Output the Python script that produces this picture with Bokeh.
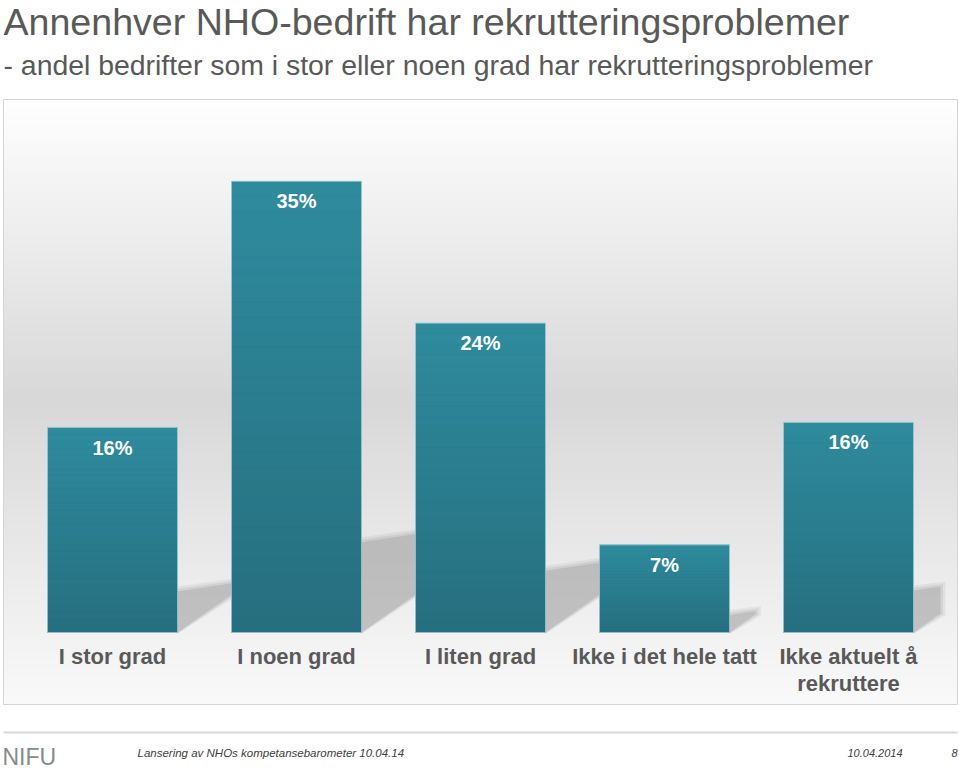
import numpy as np
from bokeh.plotting import figure
from bokeh.models import Range1d, ColumnDataSource
from bokeh.core.properties import value
from bokeh.embed import file_html
from bokeh.resources import INLINE

# ---------------- data ----------------
categories = ["I stor grad", "I noen grad", "I liten grad",
              "Ikke i det hele tatt", "Ikke aktuelt å\nrekruttere"]
shares = [15.9, 35.0, 24.0, 6.8, 16.3]
share_labels = ["16%", "35%", "24%", "7%", "16%"]

title_text = "Annenhver NHO-bedrift har rekrutteringsproblemer"
subtitle_text = "- andel bedrifter som i stor eller noen grad har rekrutteringsproblemer"
footer_text = "Lansering av NHOs kompetansebarometer 10.04.14"
footer_date = "10.04.2014"
page_number = "8"
logo_text = "NIFU"

# ---------------- layout (page pixels -> data scale) ----------------
W, H = 959, 770
MARGIN = 0
X0, DX = 112.0, 184.0      # page x of first category centre, px per category
Y0, DY = 632.0, 12.89      # page y of baseline, px per percentage point
BAR_PX = 130.0
FONT = value("Liberation Sans")


def u(X):
    return (X - X0) / DX


def v(Y):
    return (Y0 - Y) / DY


p = figure(width=W, height=H,
           x_range=Range1d(u(MARGIN), u(MARGIN + W)),
           y_range=Range1d(v(MARGIN + H), v(MARGIN)),
           x_axis_location=None, y_axis_location=None,
           min_border=0, toolbar_location=None, output_backend="svg",
           outline_line_color=None, background_fill_color="white",
           border_fill_color="white")
p.xgrid.visible = False
p.ygrid.visible = False

# ---------------- plot-area background gradient ----------------
AREA_L, AREA_R, AREA_T, AREA_B = 3, 957, 99, 704
band_y = np.arange(AREA_T, AREA_B, 2.0)
band_g = np.interp(band_y + 1, [AREA_T, 400, AREA_B], [255, 216, 250])
band_colors = ["#%02x%02x%02x" % (int(g), int(g), int(g)) for g in band_g]
p.quad(left=[u(AREA_L)] * len(band_y), right=[u(AREA_R)] * len(band_y),
       top=[v(y) for y in band_y], bottom=[v(min(y + 2.6, AREA_B)) for y in band_y],
       fill_color=band_colors, line_color=None)
p.quad(left=[u(AREA_L)], right=[u(AREA_R)], top=[v(AREA_T)], bottom=[v(AREA_B)],
       fill_color=None, line_color="#d4d4d4", line_width=1)

# ---------------- bar shadows (derived from bar heights) ----------------
idx = list(range(len(categories)))
bar_w = BAR_PX / DX
SHADOW_LIMIT = 940.0


def shadow(i, s, grow):
    h = s * DY
    R = X0 + DX * i + BAR_PX / 2
    d = min(0.3 * h, SHADOW_LIMIT - R)
    pts = [(R, Y0 + grow * 0.3),
           (R + d + grow, Y0 - 0.7 * d + grow * 0.3),
           (R + d + grow, Y0 - 0.2 * h - 0.15 * d - grow),
           (R, Y0 - 0.2 * h - grow)]
    return [u(x) for x, _ in pts], [v(y) for _, y in pts]


for grow, alpha in [(5, 0.10), (2.5, 0.14), (0, 0.22)]:
    xs, ys = [], []
    for i, s in zip(idx, shares):
        a, b = shadow(i, s, grow)
        xs.append(a)
        ys.append(b)
    p.patches(xs, ys, fill_color="#7a7a7a", fill_alpha=alpha, line_color=None)

# ---------------- bars with vertical gradient ----------------
top_rgb = np.array([46, 139, 157])
bot_rgb = np.array([38, 111, 127])
p.vbar(x=idx, width=bar_w, bottom=0, top=shares,
       fill_color="#2a7e8e", line_color=None)
NSEG = 30
seg = dict(x=[], bottom=[], top=[], color=[])
for i, s in zip(idx, shares):
    for j in range(NSEG):
        t = (j + 0.5) / NSEG
        c = bot_rgb + (top_rgb - bot_rgb) * t
        seg["x"].append(i)
        seg["bottom"].append(s * j / NSEG)
        seg["top"].append(s * (j + 1) / NSEG)
        seg["color"].append("#%02x%02x%02x" % tuple(int(round(k)) for k in c))
p.vbar(x="x", width=bar_w, bottom="bottom", top="top", fill_color="color",
       line_color="color", line_width=0.4, source=ColumnDataSource(seg))
p.vbar(x=idx, width=bar_w, bottom=0, top=shares, fill_color=None,
       line_color="#d6ecf0", line_alpha=0.55, line_width=1)

# ---------------- value labels ----------------
p.text(x=idx, y=[s - 20.0 / DY for s in shares], text=share_labels,
       text_align="center", text_baseline="middle", text_color="white",
       text_font=FONT, text_font_style="bold", text_font_size="20px")

# ---------------- category labels ----------------
p.text(x=idx, y=[v(643)] * len(idx), text=categories,
       text_align="center", text_baseline="top", text_color="#595959",
       text_font=FONT, text_font_style="bold", text_font_size="22px",
       text_line_height=1.1)

# ---------------- titles ----------------
p.text(x=[u(3)], y=[v(21.2)], text=[title_text], text_align="left",
       text_baseline="middle", text_color="#595959", text_font=FONT,
       text_font_size="37.6px")
p.text(x=[u(3)], y=[v(64.5)], text=[subtitle_text], text_align="left",
       text_baseline="middle", text_color="#595959", text_font=FONT,
       text_font_size="28.4px")

# ---------------- footer ----------------
p.segment(x0=[u(3)], y0=[v(732)], x1=[u(957)], y1=[v(732)],
          line_color="#d9d9d9", line_width=2)
p.text(x=[u(2)], y=[v(756)], text=[logo_text], text_align="left",
       text_baseline="middle", text_color="#858b8f", text_font=FONT,
       text_font_size="23px")
p.text(x=[u(137)], y=[v(752.5)], text=[footer_text], text_align="left",
       text_baseline="middle", text_color="#404040", text_font=FONT,
       text_font_style="italic", text_font_size="11.5px")
p.text(x=[u(847)], y=[v(752.5)], text=[footer_date], text_align="left",
       text_baseline="middle", text_color="#404040", text_font=FONT,
       text_font_style="italic", text_font_size="11px")
p.text(x=[u(957)], y=[v(752.5)], text=[page_number], text_align="right",
       text_baseline="middle", text_color="#404040", text_font=FONT,
       text_font_style="italic", text_font_size="11px")

open("out.html", "w").write(file_html(p, INLINE))
